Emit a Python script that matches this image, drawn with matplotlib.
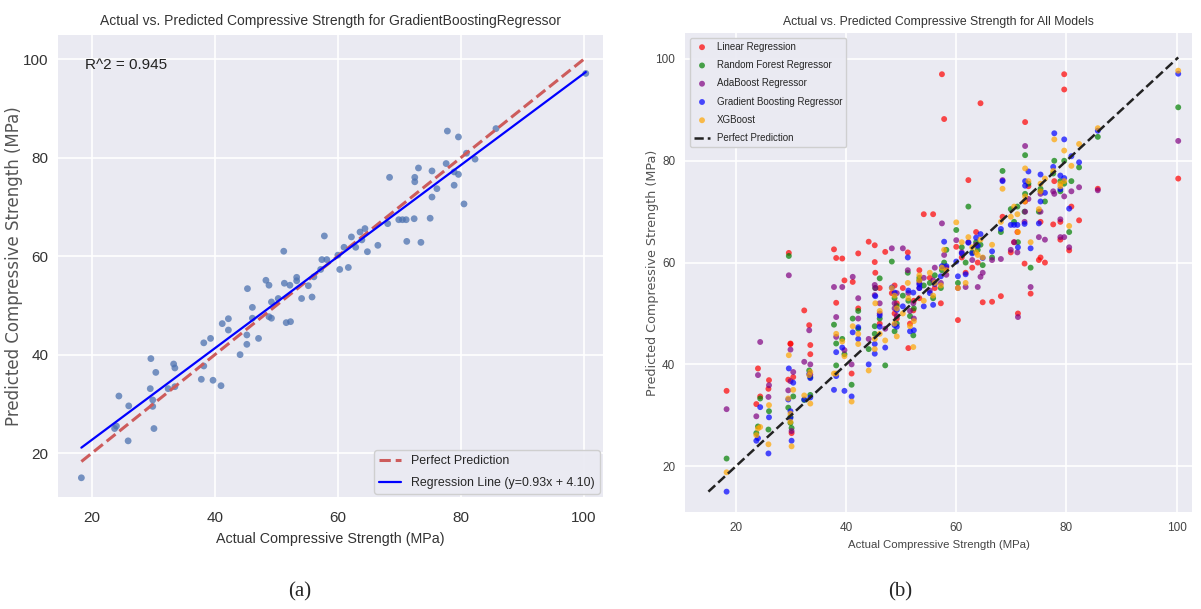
"""Actual vs. predicted compressive strength: (a) GBR alone, (b) all models"""
import numpy as np
import matplotlib
matplotlib.use('Agg')
import matplotlib.pyplot as plt

# ---- data ----
actual = [18.3, 23.7, 24.0, 24.4, 25.9, 26.0, 29.6, 29.5, 29.9, 29.9,
          30.1, 30.4, 32.4, 33.3, 33.5, 33.5, 37.8, 38.2, 38.2, 39.3,
          39.7, 41.0, 41.2, 42.2, 42.2, 44.1, 45.2, 45.2, 46.1, 46.1,
          45.3, 47.1, 48.3, 48.8, 48.8, 49.2, 49.2, 50.3, 51.2, 51.3,
          52.2, 51.6, 52.3, 53.3, 53.3, 54.1, 55.2, 55.8, 56.1, 57.8,
          57.4, 58.2, 57.2, 60.3, 61.7, 60.0, 61.0, 62.2, 62.9, 63.6,
          64.4, 63.9, 64.8, 66.5, 68.1, 68.4, 69.9, 70.5, 71.1, 71.2,
          72.4, 72.5, 72.5, 73.1, 73.5, 75.0, 75.3, 75.3, 76.1, 77.6,
          77.8, 78.9, 78.9, 79.6, 79.6, 80.5, 80.9, 82.3, 85.7, 100.3]

gb_pred = [15.0, 25.0, 25.5, 31.6, 22.5, 29.6, 39.2, 33.1, 30.8, 29.5,
           25.0, 36.4, 33.1, 38.1, 37.3, 33.5, 35.0, 42.4, 37.7, 43.3,
           34.8, 33.7, 46.3, 47.3, 45.0, 40.0, 42.1, 44.0, 49.6, 47.4,
           53.4, 43.3, 55.1, 54.1, 47.7, 47.4, 50.7, 51.4, 61.0, 54.5,
           54.1, 46.5, 46.7, 55.7, 55.0, 51.4, 54.0, 51.7, 55.8, 64.1,
           59.3, 59.3, 57.3, 57.3, 57.7, 60.2, 61.8, 63.9, 61.8, 64.9,
           65.6, 63.3, 60.9, 62.2, 66.6, 76.0, 67.4, 67.4, 67.4, 63.0,
           67.6, 76.0, 75.1, 77.9, 62.8, 67.7, 77.3, 72.0, 73.7, 78.8,
           85.4, 77.1, 74.4, 84.2, 76.6, 70.6, 80.9, 79.7, 85.9, 97.1]

lr_pred = [34.8, 32.2, 39.2, 33.7, 35.2, 36.9, 61.9, 37.0, 44.1, 44.0,
           26.5, 37.5, 50.6, 47.7, 43.8, 42.0, 62.6, 52.1, 60.9, 60.8,
           56.5, 38.2, 56.2, 51.0, 61.8, 64.1, 63.4, 60.1, 55.0, 48.0,
           58.0, 62.1, 54.0, 55.5, 50.0, 49.0, 52.0, 55.0, 62.0, 43.2,
           50.6, 48.0, 52.5, 53.0, 58.5, 69.5, 57.0, 69.5, 55.0, 88.2,
           97.0, 59.0, 52.0, 48.7, 58.0, 63.1, 61.0, 76.2, 59.0, 66.0,
           91.3, 60.0, 52.2, 52.3, 53.4, 69.0, 62.0, 64.0, 66.0, 50.0,
           59.8, 72.0, 87.6, 75.0, 53.9, 60.5, 68.0, 61.0, 60.0, 67.5,
           76.0, 68.0, 64.5, 97.0, 94.0, 62.4, 71.0, 68.3, 74.5, 76.5]

rf_pred = [21.5, 26.5, 27.8, 33.3, 27.2, 30.8, 61.3, 31.5, 29.7, 28.5,
           27.5, 33.7, 33.0, 38.8, 37.5, 34.0, 47.8, 44.1, 39.8, 45.0,
           42.0, 36.0, 49.0, 50.5, 47.0, 43.0, 46.0, 47.5, 56.9, 49.0,
           55.0, 39.8, 60.2, 53.0, 46.5, 48.0, 51.5, 53.5, 58.0, 52.5,
           45.7, 49.5, 51.0, 57.0, 56.5, 55.5, 56.0, 53.0, 57.5, 60.0,
           58.5, 62.5, 55.0, 56.0, 60.0, 66.4, 63.0, 71.0, 62.0, 64.0,
           63.5, 62.5, 59.5, 61.0, 66.0, 78.0, 70.5, 68.0, 71.0, 64.0,
           70.0, 81.1, 73.5, 75.5, 59.0, 70.0, 74.0, 74.5, 72.0, 77.5,
           80.0, 76.0, 74.0, 80.0, 75.5, 66.0, 76.0, 78.7, 84.7, 90.5]

ada_pred = [31.2, 29.8, 37.9, 44.4, 33.6, 35.9, 57.5, 34.9, 36.7, 42.9,
            26.9, 38.5, 40.5, 46.7, 40.0, 38.0, 55.2, 49.3, 45.4, 55.2,
            42.8, 40.0, 57.2, 53.0, 49.0, 45.0, 55.6, 53.6, 52.0, 50.0,
            55.0, 47.0, 62.8, 52.0, 51.0, 49.5, 54.0, 62.8, 58.5, 54.0,
            52.0, 50.5, 49.0, 56.0, 55.0, 57.0, 54.5, 56.5, 59.0, 61.5,
            67.7, 57.6, 56.0, 55.0, 55.2, 64.4, 62.0, 64.0, 60.5, 63.5,
            57.2, 55.2, 58.0, 60.5, 60.7, 76.2, 62.5, 64.0, 62.0, 49.3,
            68.0, 82.9, 70.0, 72.5, 55.2, 65.0, 73.5, 70.0, 64.5, 74.0,
            73.5, 68.5, 65.0, 73.0, 65.0, 63.0, 74.0, 74.8, 74.2, 83.9]

xgb_pred = [18.8, 26.1, 27.4, 27.7, 24.3, 32.0, 41.8, 33.3, 30.3, 28.7,
            23.9, 35.0, 33.9, 37.9, 38.5, 32.3, 38.2, 46.0, 38.2, 44.5,
            41.6, 32.7, 47.5, 46.0, 44.0, 38.8, 43.0, 45.0, 50.5, 46.0,
            52.0, 44.7, 55.0, 53.5, 48.0, 45.5, 51.0, 50.0, 56.0, 53.0,
            43.4, 47.5, 48.5, 56.5, 57.5, 52.5, 58.0, 53.5, 56.0, 62.5,
            59.0, 58.5, 55.5, 55.0, 56.0, 67.9, 64.0, 65.0, 63.0, 62.0,
            64.5, 61.5, 61.0, 63.5, 68.0, 74.5, 69.0, 71.0, 69.5, 66.0,
            72.0, 78.5, 73.0, 76.0, 64.0, 70.5, 75.5, 74.0, 76.5, 78.0,
            84.2, 75.5, 75.0, 82.0, 76.0, 67.2, 79.0, 83.3, 86.4, 97.7]

# regression line and score printed in panel (a)
SLOPE = 0.93
INTERCEPT = 4.10
R2 = 0.945

models = ['Linear Regression', 'Random Forest Regressor', 'AdaBoost Regressor',
          'Gradient Boosting Regressor', 'XGBoost']
model_preds = [lr_pred, rf_pred, ada_pred, gb_pred, xgb_pred]
model_colors = ['red', 'green', 'purple', 'blue', 'orange']
ticks = [20, 40, 60, 80, 100]

# ---- style ----
plt.style.use('seaborn-v0_8-darkgrid')
plt.rcParams['font.family'] = ['Liberation Sans', 'DejaVu Sans']
plt.rcParams['axes.facecolor'] = '#EAEAF2'
plt.rcParams['grid.color'] = 'white'
plt.rcParams['grid.linewidth'] = 1.2

W, H = 1201, 609
fig = plt.figure(figsize=(W / 100, H / 100), dpi=100)


def axes_px(left, top, right, bottom):
    return fig.add_axes([left / W, 1 - bottom / H, (right - left) / W, (bottom - top) / H])


# ---- (a) Gradient Boosting only ----
ax1 = axes_px(58, 35, 603, 497)
ax1.scatter(actual, gb_pred, s=24, color='#4C72B0', alpha=0.75, edgecolors='none')
lo, hi = min(actual), max(actual)
ax1.plot([lo, hi], [lo, hi], '--', color='#CD5C5C', lw=2.2, label='Perfect Prediction')
xs = np.array([lo, hi])
ax1.plot(xs, SLOPE * xs + INTERCEPT, color='blue', lw=1.6,
         label=f'Regression Line (y={SLOPE:.2f}x + {INTERCEPT:.2f})')
ax1.set_xlim(14.5, 103.1)
ax1.set_ylim(11.1, 104.9)
ax1.set_xticks(ticks)
ax1.set_yticks(ticks)
ax1.tick_params(labelsize=11, colors='#333333')
ax1.tick_params(axis='x', pad=10)
ax1.tick_params(axis='y', pad=7)
ax1.set_title('Actual vs. Predicted Compressive Strength for GradientBoostingRegressor',
              fontsize=10, color='#333333', pad=7)
ax1.set_xlabel('Actual Compressive Strength (MPa)', fontsize=10.3, color='#333333')
ax1.xaxis.set_label_coords(0.5, -0.075)
ax1.set_ylabel('Predicted Compressive Strength (MPa)', fontsize=12, color='#555555',
               family='DejaVu Sans')
ax1.yaxis.set_label_coords(-0.064, 0.5)
ax1.text(0.05, 0.935, f'R^2 = {R2:.3f}', transform=ax1.transAxes, fontsize=11,
         va='center', color='#222222')
ax1.legend(loc='lower right', fontsize=8.9, labelspacing=0.8, frameon=True,
           facecolor='#EAEAF2', edgecolor='#CCCCCC', framealpha=0.9,
           handlelength=1.8, borderaxespad=0.25)

# ---- (b) all models ----
ax2 = axes_px(685, 33, 1192, 512)
for name, pred, col in zip(models, model_preds, model_colors):
    ax2.scatter(actual, pred, s=18, color=col, alpha=0.7, edgecolors='none', label=name)
all_vals = actual + lr_pred + rf_pred + ada_pred + gb_pred + xgb_pred
lo2, hi2 = min(all_vals), max(all_vals)
ax2.plot([lo2, hi2], [lo2, hi2], '--', color='#222222', lw=1.8, label='Perfect Prediction')
ax2.set_xlim(10.75, 102.8)
ax2.set_ylim(11.0, 105.1)
ax2.set_xticks(ticks)
ax2.set_yticks(ticks)
ax2.tick_params(labelsize=8.5, pad=7, colors='#444444')
ax2.set_title('Actual vs. Predicted Compressive Strength for All Models',
              fontsize=8.8, color='#333333', pad=6)
ax2.set_xlabel('Actual Compressive Strength (MPa)', fontsize=8.2, color='#444444')
ax2.xaxis.set_label_coords(0.5, -0.058)
ax2.set_ylabel('Predicted Compressive Strength (MPa)', fontsize=9.2, color='#555555',
               family='DejaVu Sans')
ax2.yaxis.set_label_coords(-0.052, 0.5)
ax2.legend(loc='upper left', fontsize=7, frameon=True, facecolor='#EAEAF2',
           edgecolor='#CCCCCC', framealpha=0.9, borderaxespad=0.5, labelspacing=0.85,
           handlelength=1.7, handletextpad=0.7)

# ---- captions ----
fig.text(300 / W, 1 - 592 / H, '(a)', ha='center', va='center',
         family='Liberation Serif', fontsize=15)
fig.text(900 / W, 1 - 592 / H, '(b)', ha='center', va='center',
         family='Liberation Serif', fontsize=15)

fig.savefig('out.png', dpi=100)
